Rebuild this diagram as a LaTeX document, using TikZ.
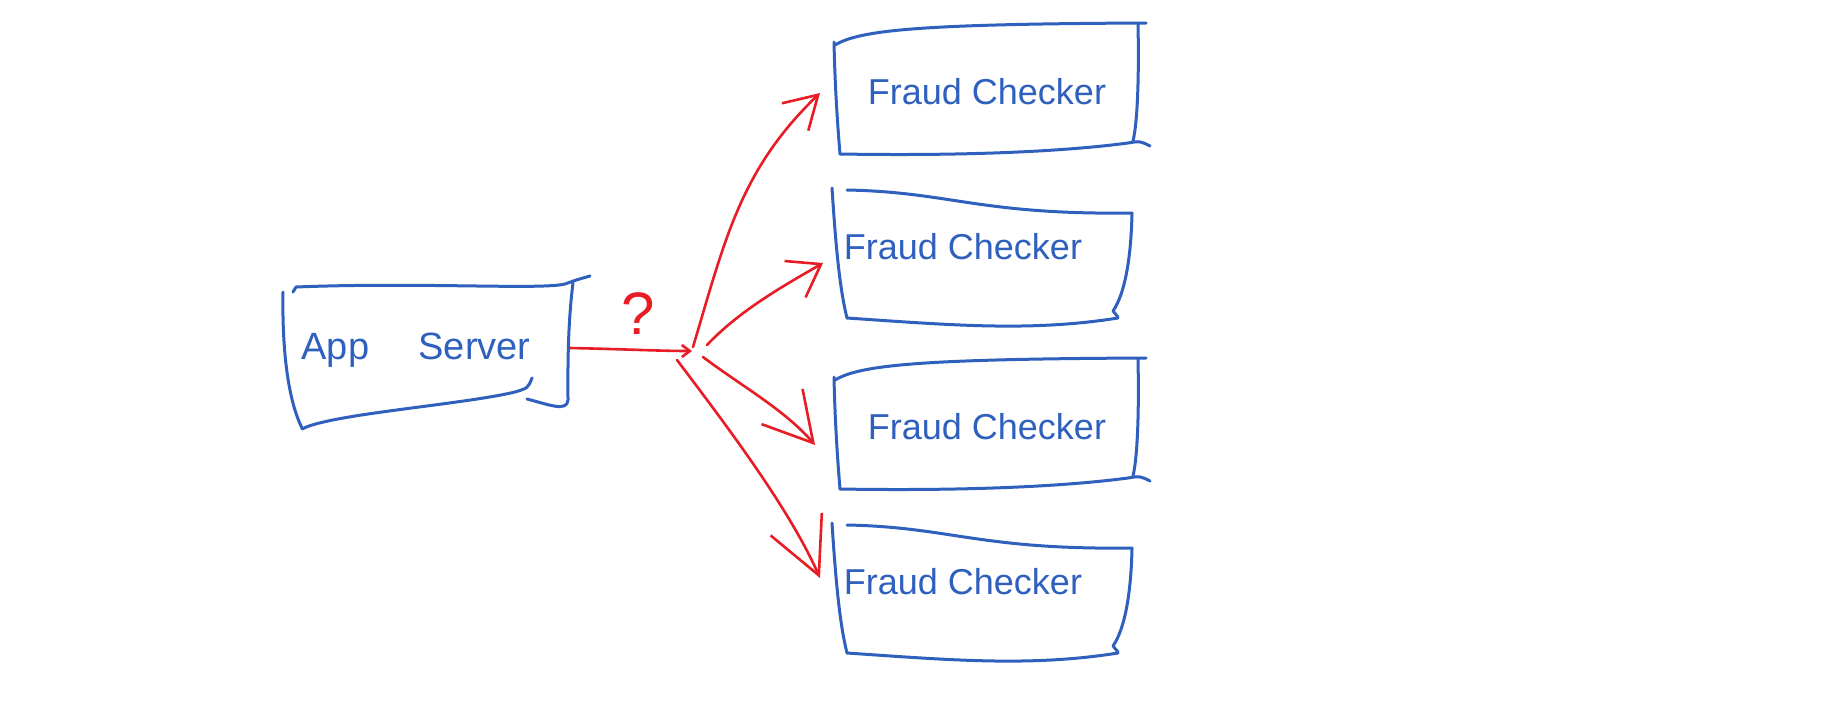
\documentclass[tikz,border=0pt]{standalone}
\usepackage{fontspec}
\setmainfont{Liberation Sans}
\usetikzlibrary{arrows.meta}
\definecolor{penblue}{RGB}{47,96,190}
\definecolor{penred}{RGB}{232,28,36}
\tikzset{
 pen/.style={draw=penblue,line width=1.5pt,line cap=round,line join=round},
 redpen/.style={draw=penred,line width=1.3pt,line cap=round,line join=round},
 hand/.style={text=penblue,inner sep=0,font=\fontsize{18}{20}\selectfont},
 bighand/.style={text=penblue,inner sep=0,font=\fontsize{19}{21}\selectfont},
 redhand/.style={text=penred,inner sep=0,font=\fontsize{30}{32}\selectfont}
}

\begin{document}
\begin{tikzpicture}[x=0.5pt,y=-0.5pt]
\fill[white] (0,0) rectangle (1842,708);
\useasboundingbox (0,0) rectangle (1842,708);
% app server
\draw[pen] (283,292) .. controls (282,350) and (288,400) .. (302,428);
\draw[pen] (293,292) -- (296,287) .. controls (420,282) and (540,290) .. (565,284) .. controls (576,280) .. (590,276);
\draw[pen] (573,283) .. controls (567,330) and (568,380) .. (568,400) .. controls (567,412) and (550,405) .. (527,399);
\draw[pen] (302,429) .. controls (330,414) and (460,405) .. (515,392) .. controls (528,388) .. (532,378);
\node[bighand] (app) at (416,350) {App\hspace{1.3em}Server};
\node[redhand] (qmark) at (638,314) {?};
% fraud checker 1
\begin{scope}[shift={(0,0)}]
\draw[pen] (834,42) .. controls (835,90) and (838,130) .. (840,154);
\draw[pen] (835,45) .. controls (860,30) and (920,24) .. (1146,23);
\draw[pen] (1138,24) .. controls (1139,70) and (1138,120) .. (1133,141);
\draw[pen] (840,154) .. controls (960,156) and (1060,152) .. (1128,143) .. controls (1140,141) .. (1150,146);
\node[hand] (fcA) at (987,92) {Fraud Checker};
\end{scope}
% fraud checker 2
\begin{scope}[shift={(0,0)}]
\draw[pen] (832,188) .. controls (836,250) and (840,290) .. (847,318);
\draw[pen] (847,190) .. controls (950,192) and (980,215) .. (1132,213);
\draw[pen] (1132,213) .. controls (1131,262) and (1124,295) .. (1113,311) -- (1118,317);
\draw[pen] (847,318) .. controls (950,325) and (1030,332) .. (1118,318);
\node[hand] (fcB) at (963,247) {Fraud Checker};
\end{scope}
% fraud checker 3
\begin{scope}[shift={(0,335)}]
\draw[pen] (834,42) .. controls (835,90) and (838,130) .. (840,154);
\draw[pen] (835,45) .. controls (860,30) and (920,24) .. (1146,23);
\draw[pen] (1138,24) .. controls (1139,70) and (1138,120) .. (1133,141);
\draw[pen] (840,154) .. controls (960,156) and (1060,152) .. (1128,143) .. controls (1140,141) .. (1150,146);
\node[hand] (fcC) at (987,92) {Fraud Checker};
\end{scope}
% fraud checker 4
\begin{scope}[shift={(0,335)}]
\draw[pen] (832,188) .. controls (836,250) and (840,290) .. (847,318);
\draw[pen] (847,190) .. controls (950,192) and (980,215) .. (1132,213);
\draw[pen] (1132,213) .. controls (1131,262) and (1124,295) .. (1113,311) -- (1118,317);
\draw[pen] (847,318) .. controls (950,325) and (1030,332) .. (1118,318);
\node[hand] (fcD) at (963,247) {Fraud Checker};
\end{scope}
% arrows
\coordinate (appout) at (570,348);
\coordinate (fork) at (692,351);
\coordinate (forkA) at (693,347);
\coordinate (forkB) at (707,345);
\coordinate (forkC) at (703,357);
\coordinate (forkD) at (677,360);
\coordinate (tipA) at (820,93);
\coordinate (tipB) at (823,263);
\coordinate (tipC) at (815,445);
\coordinate (tipD) at (820,578);
\draw[redpen,-{Straight Barb[length=4pt,width=6pt]}] (appout) .. controls (620,349) and (660,351) .. (fork);
\draw[redpen,-{Straight Barb[length=16pt,width=19pt]}] (forkA) .. controls (725,240) and (740,170) .. (tipA);
\draw[redpen,-{Straight Barb[length=15pt,width=21pt]}] (forkB) .. controls (740,310) and (785,285) .. (tipB);
\draw[redpen,-{Straight Barb[length=24pt,width=27pt]}] (forkC) .. controls (740,385) and (785,410) .. (tipC);
\draw[redpen,-{Straight Barb[length=28pt,width=28pt]}] (forkD) .. controls (730,430) and (790,510) .. (tipD);
\end{tikzpicture}
\end{document}
